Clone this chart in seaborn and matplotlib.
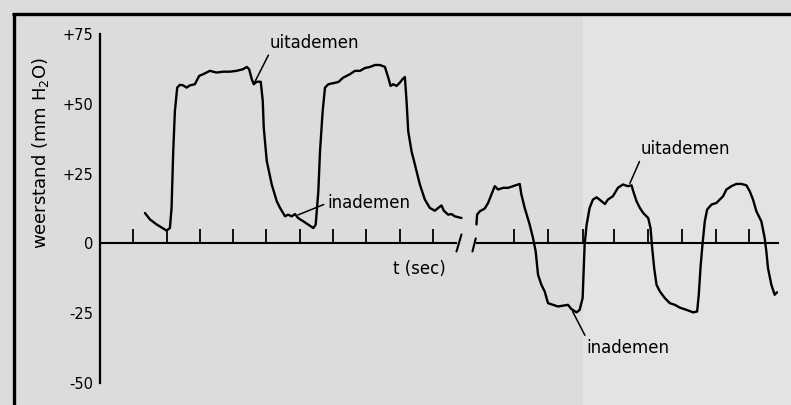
import matplotlib
matplotlib.use("Agg")
import matplotlib.pyplot as plt
import seaborn as sns
import pandas as pd
from matplotlib.lines import Line2D
from matplotlib.patches import Rectangle

# ---- data (t in seconds, resistance in mm H2O) ----
t1 = [1.35, 1.50, 1.70, 2.00, 2.10, 2.15, 2.20, 2.25, 2.32, 2.40, 2.50, 2.60, 2.70, 2.85,
      2.98, 3.10, 3.30, 3.50, 3.70, 3.90, 4.10, 4.30, 4.41, 4.48, 4.56, 4.62, 4.71, 4.83,
      4.89, 4.92, 5.01, 5.16, 5.31, 5.41, 5.56, 5.65, 5.76, 5.86, 5.95, 6.11, 6.26, 6.41,
      6.48, 6.56, 6.61, 6.69, 6.76, 6.86, 7.01, 7.16, 7.31, 7.51, 7.66, 7.81, 7.96, 8.11,
      8.26, 8.41, 8.56, 8.66, 8.73, 8.81, 8.91, 9.01, 9.09, 9.16, 9.21, 9.26, 9.36, 9.46,
      9.61, 9.76, 9.91, 10.06, 10.16, 10.26, 10.33, 10.46, 10.56, 10.66, 10.86]
v1 = [10.9, 8.6, 6.8, 4.6, 5.5, 12.7, 33.0, 47.4, 55.8, 56.8, 56.6, 55.8, 56.6, 57.0,
      60.0, 60.6, 61.8, 61.2, 61.5, 61.5, 61.8, 62.4, 63.2, 62.4, 58.8, 57.0, 57.9, 57.9,
      51.0, 41.4, 29.5, 21.1, 15.1, 12.7, 9.7, 10.3, 9.7, 10.5, 9.1, 7.9, 6.7, 5.5,
      6.7, 18.7, 33.0, 47.4, 55.8, 57.0, 57.4, 57.8, 59.4, 60.6, 61.8, 61.8, 62.8, 63.2,
      63.9, 63.9, 63.2, 59.4, 56.4, 57.0, 56.4, 57.6, 58.8, 59.6, 51.0, 40.2, 33.0, 28.3,
      21.1, 15.7, 12.7, 11.7, 12.7, 13.6, 11.7, 10.3, 10.5, 9.7, 9.1]

t2 = [11.31, 11.33, 11.41, 11.56, 11.66, 11.76, 11.86, 11.96, 12.11, 12.26, 12.41, 12.61,
      12.66, 12.76, 12.91, 13.01, 13.09, 13.16, 13.26, 13.36, 13.46, 13.61, 13.76, 13.91,
      14.06, 14.16, 14.32, 14.41, 14.50, 14.53, 14.56, 14.62, 14.71, 14.81, 14.92, 15.07,
      15.17, 15.26, 15.41, 15.56, 15.71, 15.86, 15.97, 16.02, 16.12, 16.22, 16.32, 16.47,
      16.54, 16.59, 16.65, 16.72, 16.82, 16.97, 17.12, 17.27, 17.42, 17.62, 17.82, 17.94,
      17.99, 18.04, 18.10, 18.17, 18.24, 18.37, 18.52, 18.62, 18.72, 18.82, 18.97, 19.12,
      19.27, 19.42, 19.52, 19.62, 19.72, 19.87, 19.97, 20.02, 20.07, 20.17, 20.27, 20.34]
v2 = [6.8, 10.3, 11.5, 12.5, 14.5, 17.5, 20.5, 19.3, 19.9, 19.9, 20.5, 21.3,
      17.5, 12.7, 6.7, 1.9, -2.9, -11.2, -14.8, -17.2, -21.4, -22.0, -22.6, -22.3,
      -22.0, -23.5, -24.7, -23.8, -19.6, -10.1, -0.5, 6.7, 12.7, 15.7, 16.5, 15.1,
      14.1, 15.7, 16.9, 19.9, 21.1, 20.5, 20.8, 18.7, 15.1, 12.7, 10.9, 9.1,
      5.5, -1.7, -8.9, -14.8, -17.2, -19.6, -21.4, -22.0, -23.0, -23.8, -24.7, -24.4,
      -18.4, -8.9, -0.5, 7.9, 12.1, 13.9, 14.5, 15.7, 16.9, 19.3, 20.5, 21.3,
      21.3, 20.8, 18.7, 15.7, 11.5, 7.9, 1.9, -2.9, -8.9, -14.8, -18.4, -17.5]

ticks_part1 = [1, 2, 3, 4, 5, 6, 7, 8, 9, 10]
ticks_part2 = [12.45, 13.45, 14.5, 15.45, 16.45, 17.5, 18.5, 19.5]
ytick_values = [75, 50, 25, 0, -25, -50]
ytick_labels = ["+75", "+50", "+25", "0", "-25", "-50"]
ylabel_text = "weerstand (mm H$_2$O)"
xlabel_text = "t (sec)"

df = pd.DataFrame({
    "t": t1 + t2,
    "v": v1 + v2,
    "seg": [1] * len(t1) + [2] * len(t2),
})

sns.set_style("white")
plt.rcParams["font.family"] = ["DejaVu Sans"]
plt.rcParams["text.color"] = "black"

W, H = 791, 405
fig = plt.figure(figsize=(W / 100, H / 100), dpi=100)
bg = "#dcdcda"
fig.patch.set_facecolor(bg)
fig.add_artist(Rectangle((583 / W, 0), 1 - 583 / W, 1 - 14 / H, transform=fig.transFigure,
                         facecolor="#e3e3e1", edgecolor="none", zorder=0))

ax = fig.add_axes([100 / W, 22 / H, 679 / W, 349 / H])
ax.set_facecolor("none")

sns.lineplot(data=df, x="t", y="v", units="seg", estimator=None, sort=False,
             color="black", linewidth=1.7, legend=False, ax=ax)

ax.set_xlim(0, 20.4)
ax.set_ylim(-50, 75)

for s in ["top", "right", "bottom"]:
    ax.spines[s].set_visible(False)
ax.spines["left"].set_linewidth(1.6)
ax.spines["left"].set_color("black")

ax.set_yticks(ytick_values)
ax.set_yticklabels(ytick_labels, fontsize=10.5, color="black")
ax.tick_params(axis="y", direction="in", length=11, width=1.5, pad=5, colors="black")
ax.set_xticks([])
ax.set_xlabel("")
ax.set_ylabel("")

# time axis with break
ax.plot([0, 10.72], [0, 0], color="black", lw=1.5, solid_capstyle="butt")
ax.plot([11.29, 20.4], [0, 0], color="black", lw=1.5, solid_capstyle="butt")
ax.plot([10.71, 10.86], [-2.9, 3.2], color="black", lw=1.5)
ax.plot([11.19, 11.29], [-2.9, 1.8], color="black", lw=1.5)
ax.vlines(ticks_part1 + ticks_part2, 0, 5, color="black", lw=1.3)

ax.text(9.6, -9.3, xlabel_text, ha="center", va="center", fontsize=12, color="black")

lead = dict(arrowstyle="-", color="black", lw=1.1, shrinkA=0, shrinkB=0)
ax.annotate("uitademen", xy=(4.65, 57.8), xytext=(5.11, 68.6), fontsize=12, color="black",
            ha="left", va="bottom", arrowprops=dict(lead, relpos=(0, 0)))
ax.annotate("inademen", xy=(5.95, 10.2), xytext=(6.82, 14.4), fontsize=12, color="black",
            ha="left", va="center", arrowprops=dict(lead, relpos=(0, 0.5)))
ax.annotate("uitademen", xy=(15.92, 21.5), xytext=(16.25, 30.5), fontsize=12, color="black",
            ha="left", va="bottom", arrowprops=dict(lead, relpos=(0, 0)))
ax.annotate("inademen", xy=(14.20, -24.4), xytext=(14.62, -34.1), fontsize=12, color="black",
            ha="left", va="top", arrowprops=dict(lead, relpos=(0, 1)))

fig.text(40.5 / W, 1 - 153 / H, ylabel_text, rotation=90, ha="center", va="center",
         fontsize=13, color="black")

# frame of the printed figure
fig.add_artist(Line2D([12 / W, 1], [1 - 14 / H, 1 - 14 / H], transform=fig.transFigure,
                      color="black", lw=2.4, solid_capstyle="butt"))
fig.add_artist(Line2D([13.5 / W, 13.5 / W], [0, 1 - 13 / H], transform=fig.transFigure,
                      color="black", lw=2.4, solid_capstyle="butt"))

fig.savefig("out.png", dpi=100, facecolor=fig.get_facecolor())
